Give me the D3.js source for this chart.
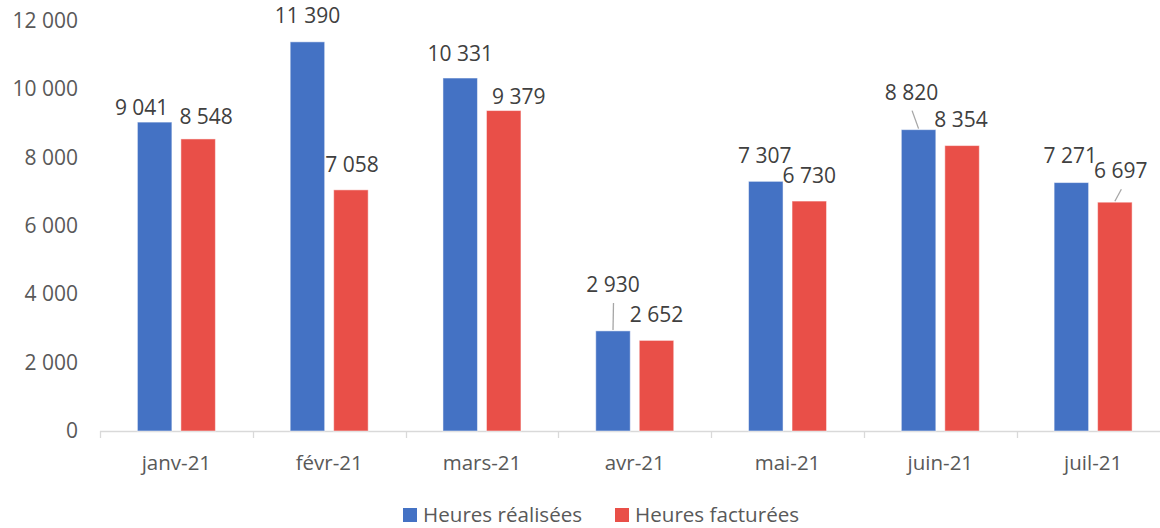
<!DOCTYPE html>
<html><head><meta charset="utf-8">
<script src="https://cdn.jsdelivr.net/npm/d3@7"></script>
<style>body{margin:0;background:#fff}svg{display:block}text{font-family:"Open Sans",Lato,sans-serif}</style>
</head><body><svg id="c" width="1160" height="528"></svg>
<script>
const categories = ["janv-21","févr-21","mars-21","avr-21","mai-21","juin-21","juil-21"];
const seriesNames = ["Heures réalisées","Heures facturées"];
const realisees = [9041,11390,10331,2930,7307,8820,7271];
const facturees = [8548,7058,9379,2652,6730,8354,6697];
const yTicks = [0,2000,4000,6000,8000,10000,12000];
const colors = ["#4472C4","#E94F48"];
// label offsets (dx, dy of baseline from bar top centre) and leader-line flags
const labelOffsetsReal = [[-13,-7],[0,-19],[0,-17],[0,-39],[-1,-18],[-7,-30],[-1,-20]];
const labelOffsetsFact = [[8,-15],[1,-18],[15,-7],[0,-18],[0,-18],[-1,-19],[6,-24]];
const leaderReal = [false,false,false,true,false,true,false];
const leaderFact = [false,false,false,false,false,false,true];

const fmt = v => d3.format(",")(v).replace(/,/g," ");
const svg = d3.select("#c");
const x = d3.scaleBand().domain(categories).range([100,1169.5]);
const y = d3.scaleLinear().domain([0,12000]).range([431,21]);
const barW = 34.5;

// y labels
svg.append("g").selectAll("text").data(yTicks).join("text")
  .attr("x",78).attr("y",d=>y(d)+7).attr("text-anchor","end")
  .attr("font-size",21).attr("fill","#595959").text(fmt);

// x axis
const xa = svg.append("g");
xa.append("line").attr("x1",100).attr("x2",1160).attr("y1",431.5).attr("y2",431.5).attr("stroke","#d9d9d9").attr("stroke-width",1.3);
const bounds = categories.map(c=>x(c));
xa.selectAll("line.t").data(bounds).join("line").attr("class","t")
  .attr("x1",d=>Math.round(d)+0.5).attr("x2",d=>Math.round(d)+0.5).attr("y1",431).attr("y2",438)
  .attr("stroke","#d9d9d9").attr("stroke-width",1.3);
xa.selectAll("text").data(categories).join("text")
  .attr("x",d=>x(d)+x.bandwidth()/2).attr("y",470).attr("text-anchor","middle")
  .attr("font-size",20.5).attr("fill","#595959").text(d=>d);

const series = [
  {vals:realisees, off:labelOffsetsReal, lead:leaderReal, dx:-39},
  {vals:facturees, off:labelOffsetsFact, lead:leaderFact, dx:4.5}
];
series.forEach((s,si)=>{
  const g = svg.append("g");
  const cx = i => x(categories[i]) + x.bandwidth()/2 + s.dx;
  g.selectAll("rect").data(s.vals).join("rect")
    .attr("x",(d,i)=>cx(i)).attr("y",d=>y(d)).attr("width",barW).attr("height",d=>y(0)-y(d))
    .attr("fill",colors[si]).attr("stroke","#ffffff").attr("stroke-opacity",0.5).attr("stroke-width",1);
  s.vals.forEach((d,i)=>{
    const bx = cx(i)+barW/2, by = y(d);
    const lx = bx + s.off[i][0], ly = by + s.off[i][1];
    if (s.lead[i]) {
      g.append("line").attr("x1",lx+0.5).attr("y1",ly+11).attr("x2",bx).attr("y2",by-1)
        .attr("stroke","#a6a6a6").attr("stroke-width",1.3);
    }
    g.append("text").attr("x",lx).attr("y",ly).attr("text-anchor","middle")
      .attr("font-size",21).attr("fill","#404040").text(fmt(d));
  });
});

// legend
const leg = svg.append("g");
const legItems = [{x:403},{x:615}];
seriesNames.forEach((n,i)=>{
  leg.append("rect").attr("x",legItems[i].x).attr("y",508).attr("width",14).attr("height",14).attr("fill",colors[i]);
  leg.append("text").attr("x",legItems[i].x+20).attr("y",522).attr("font-size",20.6).attr("fill","#595959").text(n);
});
</script></body></html>
